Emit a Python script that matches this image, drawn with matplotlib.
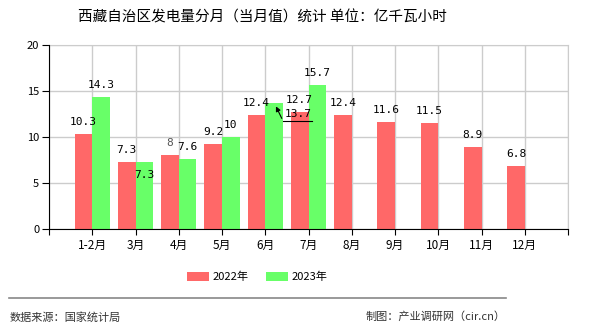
import matplotlib
matplotlib.use("Agg")
import matplotlib.pyplot as plt
import numpy as np

plt.rcParams['font.family'] = ['Noto Sans CJK SC', 'DejaVu Sans']

months = ["1-2月", "3月", "4月", "5月", "6月", "7月", "8月", "9月", "10月", "11月", "12月"]
v2022 = [10.3, 7.3, 8, 9.2, 12.4, 12.7, 12.4, 11.6, 11.5, 8.9, 6.8]
v2023 = [14.3, 7.3, 7.6, 10, 13.7, 15.7]

red = "#ff6868"
green = "#68ff68"
grid_c = "#cccccc"

fig = plt.figure(figsize=(5.9, 3.3), dpi=100)
ax = fig.add_axes([49 / 590, 1 - 229 / 330, 519 / 590, 184 / 330])

x = np.arange(len(months))
w = 0.41
ax.bar(x[:len(v2022)] - w / 2, v2022, w, color=red, zorder=2, label="2022年")
ax.bar(x[:len(v2023)] + w / 2, v2023, w, color=green, zorder=2, label="2023年")

ax.set_xlim(-1, 11)
ax.set_ylim(0, 20)
ax.set_xticks(np.arange(-1, 12))
ax.set_xticklabels([""] + months + [""], fontsize=8.5)
ax.set_yticks([0, 5, 10, 15, 20])
ax.tick_params(axis="y", labelsize=8, length=5, pad=2)
ax.tick_params(axis="x", length=4, pad=3)
ax.grid(True, color=grid_c, linewidth=1, zorder=0)
for s in ["top", "right"]:
    ax.spines[s].set_color(grid_c)
for s in ["left", "bottom"]:
    ax.spines[s].set_color("black")
    ax.spines[s].set_zorder(3)

lbl = dict(fontsize=8, family="DejaVu Sans Mono", ha="center", va="bottom",
           textcoords="offset points", zorder=4)


def fmt(v):
    return f"{v:g}"


for i, v in enumerate(v2022):
    kw = dict(lbl)
    if i == 2:
        kw["color"] = "#555555"
    ax.annotate(fmt(v), (x[i] - w / 2, v), xytext=(0, 5), **kw)

for i, v in enumerate(v2023):
    if i == 1:
        ax.annotate(fmt(v), (x[i] + w / 2, v), xytext=(0, -13), **lbl)
    elif i == 4:
        # label pushed aside, with a leader line back to the bar
        ax.text(x[i] + 0.76, v - 1.75, fmt(v), fontsize=8, family="DejaVu Sans Mono",
                ha="center", va="bottom", zorder=4)
        ax.annotate("", xy=(x[i] + 0.22, v - 0.1), xytext=(x[i] + 0.41, v - 1.95),
                    arrowprops=dict(arrowstyle="-|>", color="black", lw=0.8,
                                    mutation_scale=7), zorder=4)
        ax.plot([x[i] + 0.41, x[i] + 1.08], [v - 1.95, v - 1.95], color="black", lw=0.8, zorder=4)
    else:
        ax.annotate(fmt(v), (x[i] + w / 2, v), xytext=(0, 5), **lbl)

fig.text(262 / 590, 1 - 17 / 330, "西藏自治区发电量分月（当月值）统计 单位：亿千瓦小时",
         ha="center", va="center", fontsize=10.5)

fig.legend(loc="center", bbox_to_anchor=(257 / 590, 1 - 277 / 330), ncol=2, frameon=False,
           fontsize=8, handlelength=2.0, handleheight=0.9, columnspacing=1.6, handletextpad=0.3)

fig.add_artist(plt.Line2D([9 / 590, 506 / 590], [1 - 298 / 330, 1 - 298 / 330],
                          color="#888888", lw=1.2))
fig.text(10 / 590, 1 - 317 / 330, "数据来源：国家统计局", ha="left", va="center",
         fontsize=8, color="#333333")
fig.text(506 / 590, 1 - 317 / 330, "制图：产业调研网（cir.cn）", ha="right", va="center",
         fontsize=8, color="#333333")

fig.savefig("out.png", dpi=100)
